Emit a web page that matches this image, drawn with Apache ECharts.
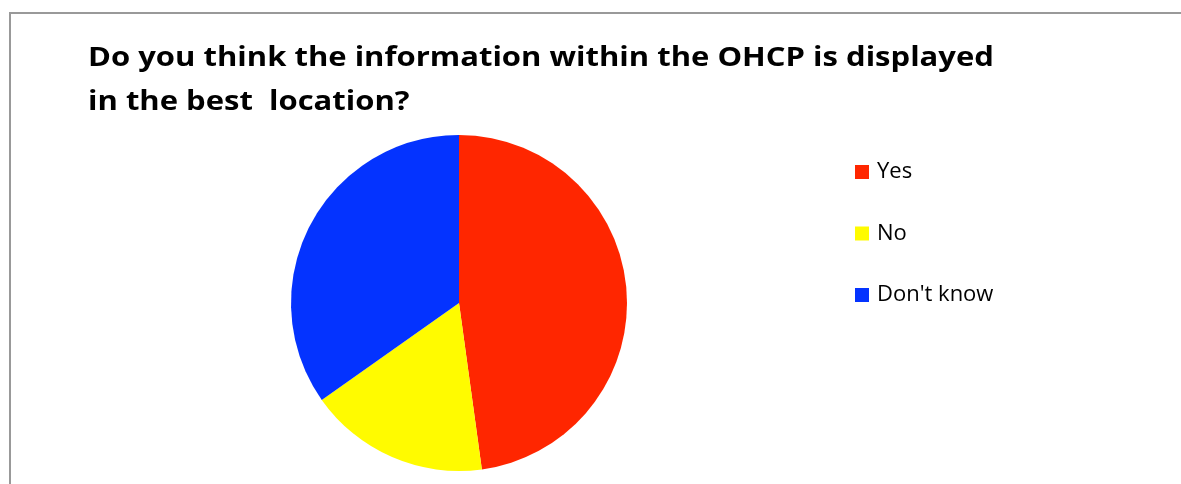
<!DOCTYPE html>
<html>
<head>
<meta charset="utf-8">
<script src="https://cdn.jsdelivr.net/npm/echarts@6/dist/echarts.min.js"></script>
<style>
  html, body { margin: 0; padding: 0; background: #ffffff; }
  #chart { width: 1181px; height: 484px; }
</style>
</head>
<body>
<div id="chart"></div>
<script>
// Survey answers
const categories = ['Yes', 'No', "Don't know"];
const responses = [11, 4, 8];
const sliceColors = ['#FF2600', '#FFFB00', '#0433FF'];
const titleText = 'Do you think the information within the OHCP is displayed\nin the best  location?';

const chart = echarts.init(document.getElementById('chart'), null, { renderer: 'canvas' });

chart.setOption({
  animation: false,
  backgroundColor: '#ffffff',
  graphic: [
    {
      type: 'rect',
      shape: { x: 10, y: 13, width: 1200, height: 500 },
      style: { fill: 'none', stroke: '#999999', lineWidth: 2 },
      silent: true
    },
    {
      type: 'text',
      x: 88,
      y: 37,
      scaleX: 1.17,
      style: {
        text: titleText,
        font: 'bold 26.5px "Open Sans"',
        fill: '#000000',
        lineHeight: 43.5,
        textAlign: 'left',
        textVerticalAlign: 'top'
      }
    }
  ],
  legend: {
    orient: 'vertical',
    left: 855,
    top: 159,
    padding: 0,
    itemWidth: 14,
    itemHeight: 14,
    itemGap: 35.5,
    icon: 'rect',
    data: categories,
    textStyle: {
      fontFamily: 'Open Sans',
      fontSize: 22,
      lineHeight: 22,
      color: '#000000',
      padding: [4, 0, 0, 3]
    }
  },
  series: [
    {
      type: 'pie',
      center: [459, 303],
      radius: 168,
      startAngle: 90,
      clockwise: true,
      label: { show: false },
      labelLine: { show: false },
      itemStyle: { borderWidth: 0 },
      emphasis: { disabled: true },
      data: categories.map((name, i) => ({
        name,
        value: responses[i],
        itemStyle: { color: sliceColors[i] }
      }))
    }
  ]
});
</script>
</body>
</html>
